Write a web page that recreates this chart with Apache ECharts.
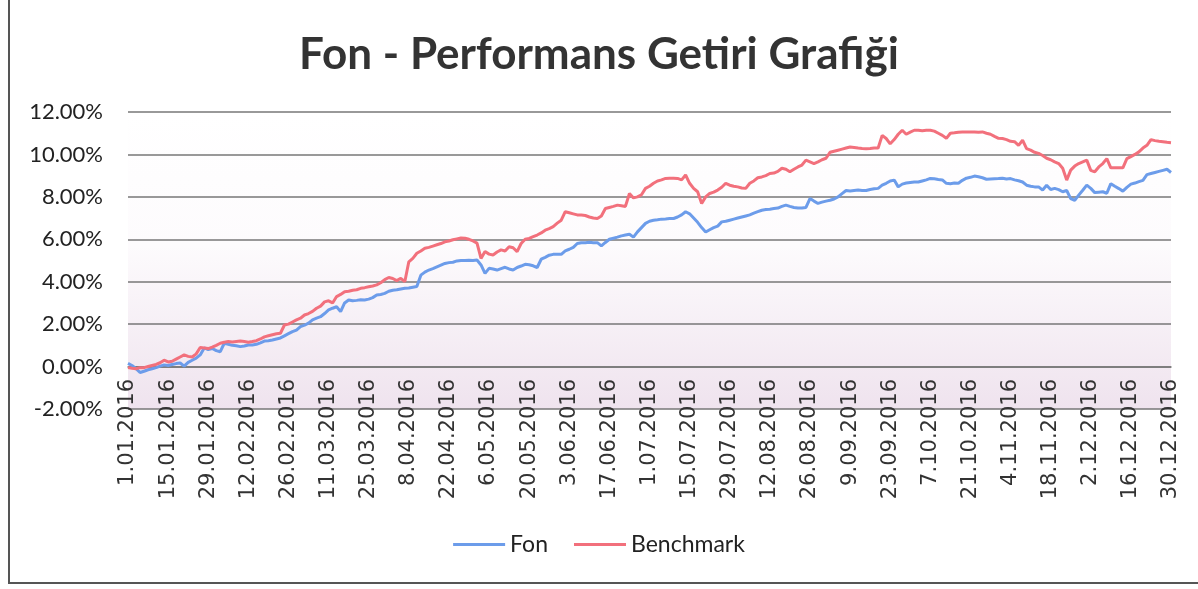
<!DOCTYPE html>
<html>
<head>
<meta charset="utf-8">
<script src="https://cdn.jsdelivr.net/npm/echarts@6/dist/echarts.min.js"></script>
<style>
  html, body { margin: 0; padding: 0; background: #fff; }
  #main { position: absolute; left: 0; top: 0; width: 1198px; height: 589px; }
  #frame { position: absolute; left: 8px; top: -2px; width: 1188px; height: 584px;
           border-left: 2px solid #555; border-bottom: 2px solid #555; pointer-events: none; }
</style>
</head>
<body>
<div id="main"></div>
<div id="frame"></div>
<script>
// gunluk getiri (%), is gunleri 1.01.2016 - 30.12.2016
var fonValues = [
  0.15, 0.05, -0.10, -0.28, -0.22, -0.15, -0.10, -0.05, 0.02, 0.08,
  0.05, 0.10, 0.14, 0.17, 0.02, 0.20, 0.30, 0.40, 0.55, 0.88,
  0.80, 0.85, 0.75, 0.70, 1.10, 1.05, 1.00, 0.98, 0.94, 0.97,
  1.02, 1.02, 1.05, 1.12, 1.20, 1.22, 1.25, 1.30, 1.35, 1.45,
  1.55, 1.65, 1.72, 1.88, 1.95, 2.05, 2.20, 2.28, 2.35, 2.50,
  2.67, 2.75, 2.82, 2.59, 3.00, 3.14, 3.10, 3.12, 3.15, 3.14,
  3.18, 3.25, 3.37, 3.40, 3.45, 3.55, 3.60, 3.62, 3.66, 3.69,
  3.70, 3.74, 3.77, 4.31, 4.45, 4.55, 4.62, 4.70, 4.78, 4.86,
  4.90, 4.92, 4.98, 5.00, 5.00, 5.01, 5.00, 5.02, 4.79, 4.39,
  4.63, 4.60, 4.55, 4.62, 4.68, 4.60, 4.55, 4.67, 4.74, 4.82,
  4.80, 4.75, 4.67, 5.06, 5.15, 5.25, 5.29, 5.30, 5.29, 5.45,
  5.53, 5.62, 5.80, 5.84, 5.84, 5.86, 5.84, 5.84, 5.69, 5.85,
  6.00, 6.05, 6.10, 6.16, 6.20, 6.24, 6.10, 6.35, 6.55, 6.75,
  6.85, 6.90, 6.92, 6.95, 6.96, 6.98, 6.98, 7.05, 7.15, 7.30,
  7.20, 7.00, 6.80, 6.55, 6.34, 6.45, 6.55, 6.62, 6.82, 6.85,
  6.90, 6.95, 7.00, 7.05, 7.10, 7.15, 7.23, 7.30, 7.37, 7.40,
  7.42, 7.45, 7.47, 7.55, 7.61, 7.55, 7.50, 7.47, 7.48, 7.50,
  7.92, 7.80, 7.69, 7.75, 7.80, 7.84, 7.90, 8.00, 8.15, 8.30,
  8.28, 8.30, 8.32, 8.30, 8.30, 8.35, 8.38, 8.40, 8.55, 8.64,
  8.75, 8.79, 8.47, 8.60, 8.65, 8.68, 8.70, 8.70, 8.75, 8.80,
  8.87, 8.85, 8.82, 8.80, 8.64, 8.62, 8.65, 8.64, 8.78, 8.88,
  8.92, 8.98, 8.95, 8.90, 8.83, 8.84, 8.85, 8.86, 8.88, 8.84,
  8.86, 8.80, 8.76, 8.70, 8.55, 8.50, 8.47, 8.47, 8.32, 8.55,
  8.35, 8.40, 8.34, 8.24, 8.30, 7.92, 7.84, 8.08, 8.31, 8.55,
  8.40, 8.20, 8.22, 8.24, 8.17, 8.62, 8.50, 8.39, 8.27, 8.45,
  8.60, 8.65, 8.72, 8.78, 9.05, 9.10, 9.15, 9.20, 9.25, 9.30,
  9.15
];
var benchmarkValues = [
  -0.05, -0.08, -0.10, -0.05, -0.05, 0.00, 0.05, 0.10, 0.18, 0.30,
  0.22, 0.25, 0.35, 0.45, 0.55, 0.48, 0.45, 0.60, 0.90, 0.88,
  0.85, 0.92, 1.00, 1.10, 1.15, 1.18, 1.16, 1.18, 1.20, 1.18,
  1.15, 1.18, 1.22, 1.30, 1.40, 1.45, 1.50, 1.55, 1.57, 1.96,
  2.00, 2.10, 2.20, 2.28, 2.43, 2.50, 2.60, 2.75, 2.85, 3.05,
  3.10, 3.00, 3.30, 3.40, 3.53, 3.55, 3.60, 3.62, 3.69, 3.72,
  3.76, 3.80, 3.85, 3.95, 4.10, 4.20, 4.15, 4.05, 4.16, 4.00,
  4.94, 5.10, 5.34, 5.45, 5.58, 5.62, 5.68, 5.74, 5.80, 5.88,
  5.92, 5.98, 6.02, 6.06, 6.05, 6.00, 5.92, 5.82, 5.10, 5.42,
  5.30, 5.26, 5.40, 5.50, 5.45, 5.65, 5.60, 5.42, 5.80, 6.00,
  6.04, 6.12, 6.20, 6.30, 6.43, 6.50, 6.60, 6.76, 6.90, 7.30,
  7.25, 7.20, 7.15, 7.14, 7.12, 7.05, 7.00, 6.98, 7.10, 7.45,
  7.50, 7.55, 7.61, 7.58, 7.55, 8.16, 7.95, 8.00, 8.10, 8.40,
  8.50, 8.64, 8.75, 8.80, 8.87, 8.88, 8.88, 8.87, 8.80, 9.03,
  8.64, 8.40, 8.24, 7.69, 8.00, 8.16, 8.22, 8.32, 8.45, 8.64,
  8.55, 8.50, 8.47, 8.42, 8.40, 8.64, 8.75, 8.90, 8.94, 9.00,
  9.10, 9.12, 9.20, 9.35, 9.30, 9.18, 9.30, 9.41, 9.50, 9.73,
  9.65, 9.57, 9.65, 9.75, 9.82, 10.10, 10.15, 10.20, 10.25, 10.30,
  10.35, 10.33, 10.30, 10.28, 10.27, 10.28, 10.30, 10.30, 10.90, 10.75,
  10.50, 10.70, 10.95, 11.14, 10.95, 11.05, 11.14, 11.14, 11.12, 11.14,
  11.14, 11.10, 11.00, 10.90, 10.76, 11.00, 11.02, 11.05, 11.06, 11.06,
  11.06, 11.06, 11.05, 11.06, 11.00, 10.95, 10.85, 10.76, 10.75, 10.70,
  10.62, 10.60, 10.43, 10.67, 10.27, 10.20, 10.10, 10.05, 9.95, 9.82,
  9.75, 9.65, 9.57, 9.35, 8.79, 9.26, 9.45, 9.57, 9.65, 9.73,
  9.25, 9.18, 9.41, 9.57, 9.80, 9.37, 9.37, 9.37, 9.37, 9.80,
  9.90, 10.00, 10.12, 10.30, 10.43, 10.70, 10.65, 10.62, 10.60, 10.57,
  10.55
];
var yTicks = { min: -2, max: 12, interval: 2 };

// is gunu tarihleri (hafta sonlari haric)
var dates = [];
var d = new Date(2016, 0, 1);
var end = new Date(2016, 11, 30);
while (d <= end) {
  var wd = d.getDay();
  if (wd !== 0 && wd !== 6) {
    var mm = d.getMonth() + 1;
    dates.push(d.getDate() + '.' + (mm < 10 ? '0' + mm : mm) + '.' + d.getFullYear());
  }
  d.setDate(d.getDate() + 1);
}

var myChart = echarts.init(document.getElementById('main'));
myChart.setOption({
  animation: false,
  title: {
    text: 'Fon - Performans Getiri Grafiği',
    left: 'center',
    top: 28,
    textStyle: { fontFamily: 'Lato', fontWeight: 'bold', fontSize: 44, color: '#333' }
  },
  legend: {
    data: ['Fon', 'Benchmark'],
    bottom: 28,
    left: 'center',
    icon: 'rect',
    itemWidth: 52,
    itemHeight: 3,
    itemGap: 26,
    textStyle: { fontFamily: 'Lato', fontSize: 23, color: '#222' }
  },
  grid: {
    left: 128,
    right: 27,
    top: 112,
    bottom: 180,
    show: true,
    borderWidth: 0,
    backgroundColor: {
      type: 'linear', x: 0, y: 0, x2: 0, y2: 1,
      colorStops: [
        { offset: 0, color: '#ffffff' },
        { offset: 0.45, color: '#fdfbfd' },
        { offset: 1, color: '#efe3ee' }
      ]
    }
  },
  xAxis: {
    type: 'category',
    boundaryGap: false,
    data: dates,
    axisLine: { lineStyle: { color: '#777', width: 1.5 } },
    axisTick: { show: false },
    axisLabel: {
      interval: 9,
      rotate: 90,
      margin: -30,
      fontFamily: 'DejaVu Sans',
      fontSize: 21,
      color: '#333'
    }
  },
  yAxis: {
    type: 'value',
    min: yTicks.min,
    max: yTicks.max,
    interval: yTicks.interval,
    axisLine: { show: false },
    axisTick: { show: false },
    splitLine: { lineStyle: { color: '#777', width: 1.5 } },
    axisLabel: {
      margin: 25,
      fontFamily: 'Lato',
      fontSize: 22,
      color: '#222',
      formatter: function (v) { return v.toFixed(2) + '%'; }
    }
  },
  series: [
    {
      name: 'Fon',
      type: 'line',
      data: fonValues,
      showSymbol: false,
      color: '#6c9cea',
      lineStyle: { width: 3, color: '#6c9cea' }
    },
    {
      name: 'Benchmark',
      type: 'line',
      data: benchmarkValues,
      showSymbol: false,
      color: '#f2707c',
      lineStyle: { width: 3, color: '#f2707c' }
    }
  ]
});
</script>
</body>
</html>
